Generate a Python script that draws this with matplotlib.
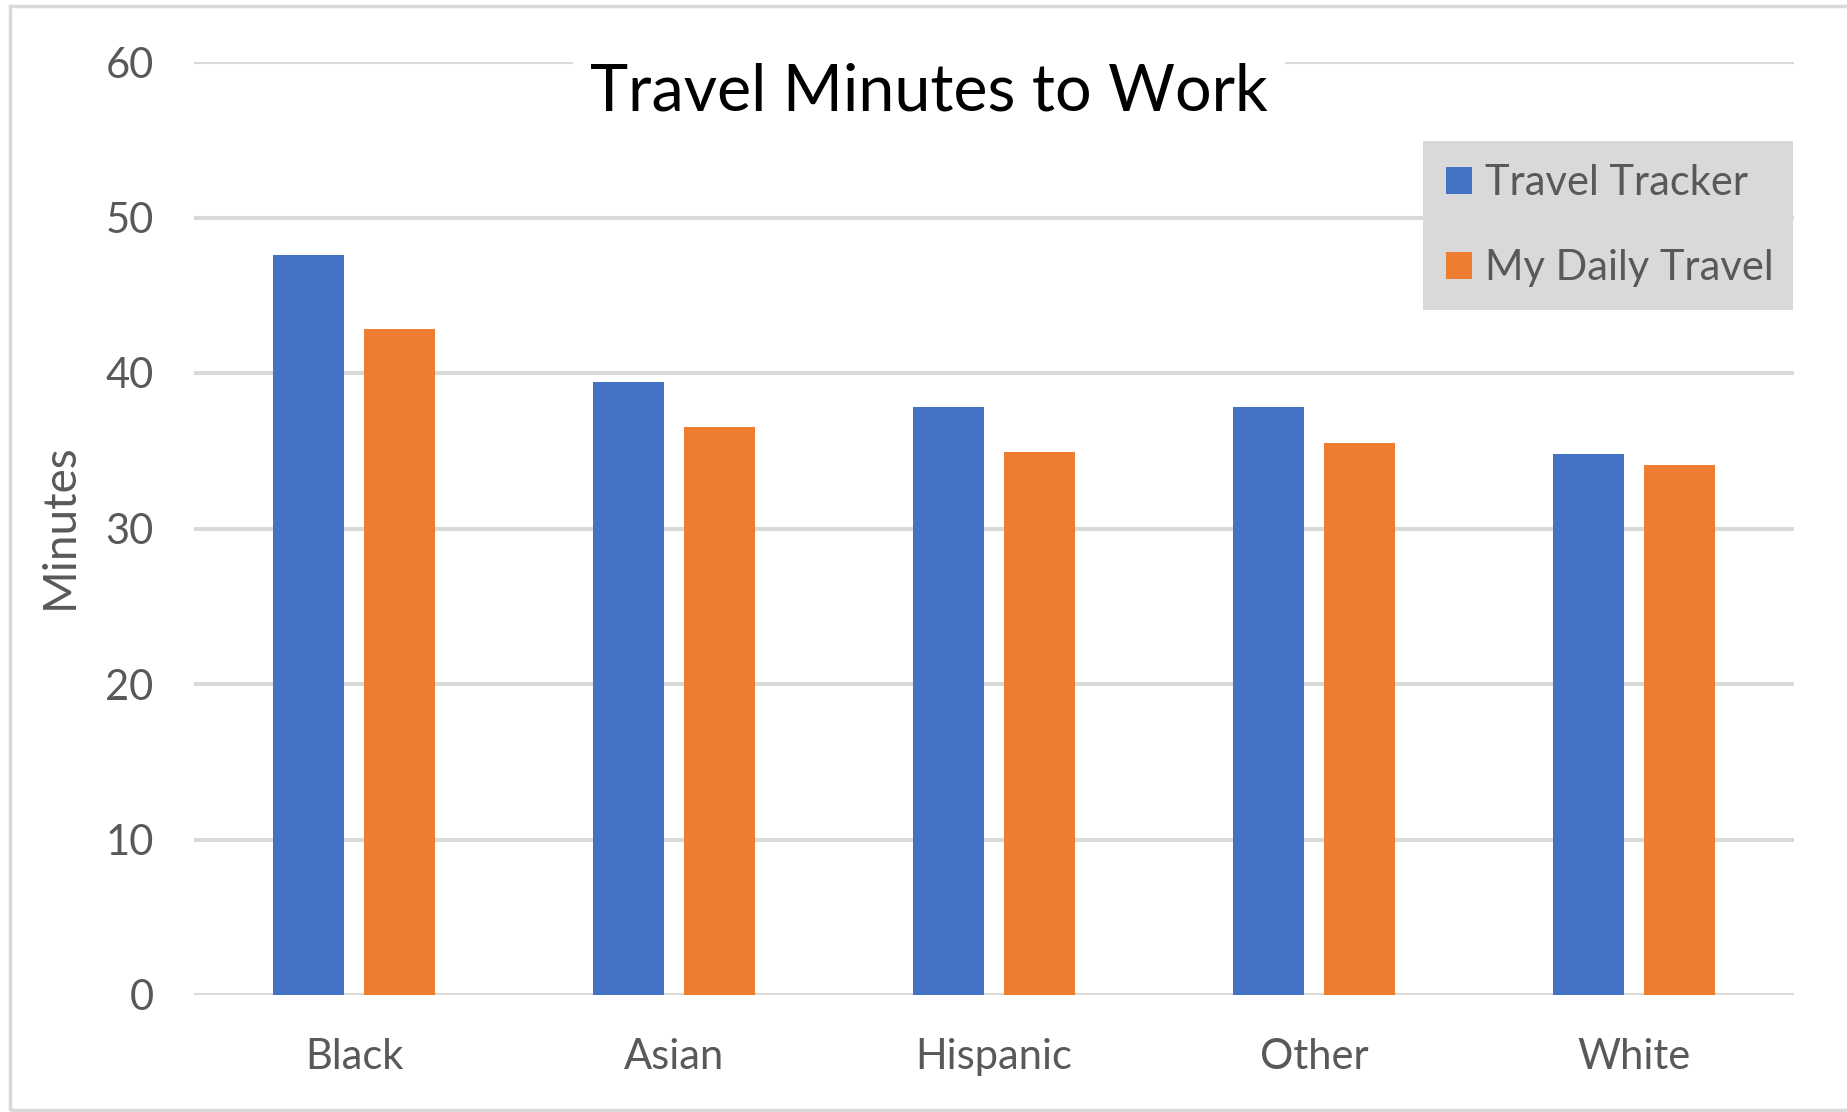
import matplotlib.pyplot as plt
import numpy as np
from matplotlib.patches import Rectangle

# ---- data ----
groups = ['Black', 'Asian', 'Hispanic', 'Other', 'White']
travel_tracker = [47.6, 39.4, 37.8, 37.8, 34.8]
my_daily_travel = [42.8, 36.5, 34.9, 35.5, 34.1]
yticks = [0, 10, 20, 30, 40, 50, 60]

blue = '#4472C4'
orange = '#ED7D31'
grey_txt = '#595959'
grid_col = '#D9D9D9'

plt.rcParams['font.family'] = ['Lato', 'DejaVu Sans']

W, H = 1847, 1112
fig = plt.figure(figsize=(W / 100, H / 100), dpi=100)
ax = fig.add_axes([194 / W, 1 - 995 / H, 1600 / W, 933 / H])

x = np.arange(len(groups))
bw = 0.222
off = 0.142
ax.bar(x - off, travel_tracker, bw, color=blue, label='Travel Tracker', zorder=3)
ax.bar(x + off, my_daily_travel, bw, color=orange, label='My Daily Travel', zorder=3)

ax.set_xlim(-0.5, len(groups) - 0.5)
ax.set_ylim(0, 60)
ax.set_yticks(yticks)
ax.set_xticks(x)
ax.set_xticklabels(groups)
ax.yaxis.grid(True, color=grid_col, linewidth=2.9, zorder=0)
ax.set_axisbelow(True)
for s in ax.spines.values():
    s.set_visible(False)
ax.tick_params(axis='both', length=0, labelsize=30, labelcolor=grey_txt)
ax.tick_params(axis='y', pad=29)
ax.tick_params(axis='x', pad=31)

ax.set_ylabel('Minutes', fontsize=33, color=grey_txt, va='center')
ax.yaxis.set_label_coords(-0.084, 0.503)

# title with white box over the top gridline
fig.text(0.503, 1 - 92 / H, 'Travel Minutes to Work', fontsize=46.5, color='black',
         ha='center', va='center',
         bbox=dict(facecolor='white', edgecolor='none', pad=12))

leg = ax.legend(loc='upper left', mode='expand',
                bbox_to_anchor=(1423 / W, 1 - 312 / H, 370 / W, 171 / H),
                bbox_transform=fig.transFigure,
                fontsize=30, frameon=True, fancybox=False,
                handlelength=0.62, handleheight=0.62, handletextpad=0.31,
                labelspacing=1.14, borderpad=0.55, borderaxespad=0)
leg.get_frame().set_facecolor(grid_col)
leg.get_frame().set_edgecolor('none')
leg.get_frame().set_alpha(1)
for t in leg.get_texts():
    t.set_color(grey_txt)

# outer chart border
fig.patches.append(Rectangle((9.5 / W, 1 - 1110 / H), (W + 10 - 9.5) / W, (1110 - 6) / H,
                             transform=fig.transFigure, fill=False,
                             edgecolor=grid_col, linewidth=2.5))

fig.savefig('out.png', dpi=100)
